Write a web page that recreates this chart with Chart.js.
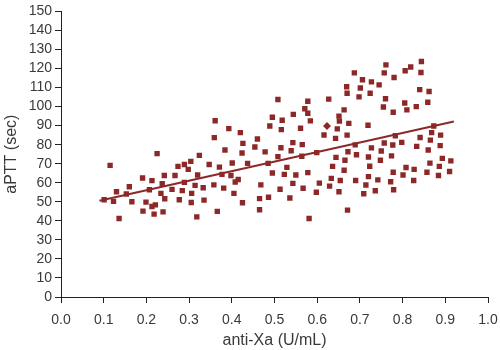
<!DOCTYPE html>
<html>
<head>
<meta charset="utf-8">
<script src="https://cdn.jsdelivr.net/npm/chart.js@4/dist/chart.umd.min.js"></script>
<style>
  html, body { margin: 0; padding: 0; background: #fff; }
  #wrap { width: 500px; height: 350px; }
</style>
</head>
<body>
<div id="wrap"><canvas id="mychart1"></canvas></div>
<script>
// anti-Xa (U/mL) for each patient sample
var antiXa = [
  0.115, 0.225, 0.324, 0.274, 0.289, 0.304, 0.298, 0.347, 0.371, 0.242,
  0.267, 0.320, 0.191, 0.213, 0.237, 0.289, 0.358, 0.160, 0.207, 0.260,
  0.284, 0.314, 0.333, 0.130, 0.153, 0.234, 0.306, 0.101, 0.123, 0.166,
  0.199, 0.243, 0.277, 0.305, 0.335, 0.221, 0.213, 0.192, 0.218, 0.239,
  0.318, 0.366, 0.136, 0.361, 0.359,
  0.508, 0.578, 0.627, 0.571, 0.578, 0.544, 0.495, 0.518, 0.584, 0.489,
  0.516, 0.561, 0.393, 0.420, 0.616, 0.460, 0.543, 0.565, 0.426, 0.454,
  0.515, 0.539, 0.384, 0.424, 0.478, 0.508, 0.564, 0.599, 0.401, 0.437,
  0.485, 0.529, 0.636, 0.377, 0.398, 0.495, 0.523, 0.550, 0.578, 0.633,
  0.408, 0.415, 0.468, 0.543, 0.605, 0.629, 0.381, 0.405, 0.513, 0.567,
  0.598, 0.425, 0.465, 0.486, 0.536, 0.465, 0.581,
  0.761, 0.844, 0.819, 0.806, 0.843, 0.757, 0.687, 0.780, 0.706, 0.727,
  0.745, 0.669, 0.701, 0.670, 0.724, 0.698, 0.840, 0.862, 0.760, 0.805,
  0.859, 0.755, 0.810, 0.832, 0.778, 0.663, 0.651, 0.652, 0.674, 0.719,
  0.647, 0.670, 0.783, 0.873, 0.868, 0.889, 0.841, 0.865, 0.643, 0.689,
  0.757, 0.777, 0.798, 0.727, 0.750, 0.774, 0.833, 0.860, 0.888, 0.644,
  0.665, 0.692, 0.672, 0.720, 0.748, 0.663, 0.723, 0.778, 0.808, 0.827,
  0.801, 0.857, 0.864, 0.893, 0.913, 0.886, 0.884, 0.910, 0.654, 0.690,
  0.720, 0.742, 0.772, 0.826, 0.714, 0.651, 0.709, 0.736, 0.779, 0.671
];
// aPTT (sec) for the same samples
var aptt = [
  69.1, 75.3, 74.4, 68.6, 69.6, 71.2, 67.0, 69.6, 68.2, 63.8,
  63.8, 64.1, 62.5, 61.1, 59.5, 60.2, 58.9, 57.9, 56.3, 56.5,
  55.9, 58.6, 57.4, 55.3, 54.1, 54.4, 54.4, 51.1, 50.2, 50.0,
  49.8, 51.6, 51.1, 49.6, 50.9, 48.4, 47.5, 45.1, 43.5, 44.7,
  42.1, 45.0, 41.2, 92.6, 83.7,
  103.7, 102.8, 103.9, 98.9, 96.5, 95.9, 94.4, 92.8, 92.5, 89.8,
  87.9, 88.6, 88.4, 86.3, 85.1, 83.0, 81.1, 80.0, 80.7, 78.8,
  78.4, 76.8, 77.2, 75.6, 76.2, 73.7, 73.9, 75.8, 70.4, 70.2,
  70.2, 68.1, 68.6, 64.4, 63.8, 65.1, 64.4, 64.1, 65.3, 62.3,
  60.4, 61.7, 58.9, 59.7, 59.8, 58.2, 57.2, 54.4, 56.6, 57.1,
  55.0, 49.5, 51.7, 52.4, 52.0, 45.8, 41.2,
  121.9, 123.7, 120.8, 118.8, 117.9, 117.7, 117.7, 115.3, 114.1, 113.0,
  111.4, 110.4, 109.8, 107.0, 107.0, 105.1, 108.9, 107.9, 104.1, 101.9,
  102.3, 99.8, 98.3, 100.0, 97.0, 98.3, 95.0, 92.4, 91.2, 90.2,
  88.3, 85.0, 84.7, 89.8, 86.3, 85.0, 83.8, 82.4, 83.3, 79.9,
  80.9, 79.8, 81.2, 78.3, 76.7, 74.1, 79.1, 77.2, 79.5, 73.3,
  71.8, 74.7, 76.3, 73.5, 71.8, 66.6, 68.7, 65.5, 68.0, 67.0,
  64.1, 65.5, 70.3, 72.8, 71.5, 68.6, 63.8, 65.9, 61.2, 61.2,
  63.2, 61.5, 60.5, 61.2, 58.8, 55.3, 54.2, 55.8, 56.3, 45.6
];
// the one sample drawn as a diamond
var diamondX = [0.623];
var diamondY = [89.8];
// regression line end points
var fitX = [0.09, 0.92];
var fitY = [50.5, 92.2];

var yTicks = [0, 10, 20, 30, 40, 50, 60, 70, 80, 90, 100, 110, 120, 130, 140, 150];
var xTicks = [0.0, 0.1, 0.2, 0.3, 0.4, 0.5, 0.6, 0.7, 0.8, 0.9, 1.0];

var red = '#8c2828';
var textColor = '#3a3a3a';
var fontFamily = 'Liberation Sans, Arial, sans-serif';

function toPoints(xs, ys) {
  var pts = [];
  for (var i = 0; i < xs.length; i++) {
    pts.push({ x: xs[i], y: ys[i] });
  }
  return pts;
}

function BuildChart() {
  var ctx = document.getElementById("mychart1").getContext('2d');
  var mychart = new Chart(ctx, {
    type: 'scatter',
    data: {
      datasets: [{
        label: 'fit',
        type: 'line',
        data: toPoints(fitX, fitY),
        borderColor: red,
        borderWidth: 2,
        pointRadius: 0,
        fill: false,
        order: 2
      }, {
        label: 'samples',
        data: toPoints(antiXa, aptt),
        pointStyle: 'rect',
        pointRadius: 3.8,
        backgroundColor: red,
        borderColor: red,
        borderWidth: 0,
        order: 1
      }, {
        label: 'diamond',
        data: toPoints(diamondX, diamondY),
        pointStyle: 'rectRot',
        pointRadius: 4,
        backgroundColor: red,
        borderColor: red,
        borderWidth: 0,
        order: 1
      }]
    },
    options: {
      responsive: true,
      maintainAspectRatio: false,
      animation: false,
      layout: { padding: { top: 7, right: 0, left: 0, bottom: 0 } },
      plugins: {
        legend: { display: false },
        tooltip: { enabled: false }
      },
      scales: {
        x: {
          type: 'linear',
          min: 0, max: 1,
          afterBuildTicks: function (axis) {
            axis.ticks = xTicks.map(function (v) { return { value: v }; });
          },
          afterFit: function (axis) {
            axis.height = 53;
            // tick padding pushes the labels down, keep it out of the side margins
            axis.paddingRight = 12;
            axis.paddingLeft = 0;
          },
          border: { display: true, color: '#222', width: 1 },
          grid: { drawOnChartArea: false, drawTicks: true, tickLength: 6, color: '#222' },
          ticks: {
            color: textColor,
            font: { family: fontFamily, size: 14 },
            padding: 9,
            autoSkip: false,
            maxRotation: 0,
            callback: function (v) { return Number(v).toFixed(1); }
          },
          title: {
            display: true,
            text: 'anti-Xa (U/mL)',
            color: textColor,
            font: { family: fontFamily, size: 16 },
            padding: { top: 2, bottom: 0 }
          }
        },
        y: {
          type: 'linear',
          min: 0, max: 150,
          afterBuildTicks: function (axis) {
            axis.ticks = yTicks.map(function (v) { return { value: v }; });
          },
          afterFit: function (axis) { axis.width = 61; },
          border: { display: true, color: '#222', width: 1 },
          grid: { drawOnChartArea: false, drawTicks: true, tickLength: 6, color: '#222' },
          ticks: {
            color: textColor,
            font: { family: fontFamily, size: 14 },
            padding: 3,
            autoSkip: false
          },
          title: {
            display: true,
            text: 'aPTT (sec)',
            color: textColor,
            font: { family: fontFamily, size: 16 },
            padding: { top: 2, bottom: 2 }
          }
        }
      }
    }
  });
  return mychart;
}

BuildChart();
</script>
</body>
</html>
